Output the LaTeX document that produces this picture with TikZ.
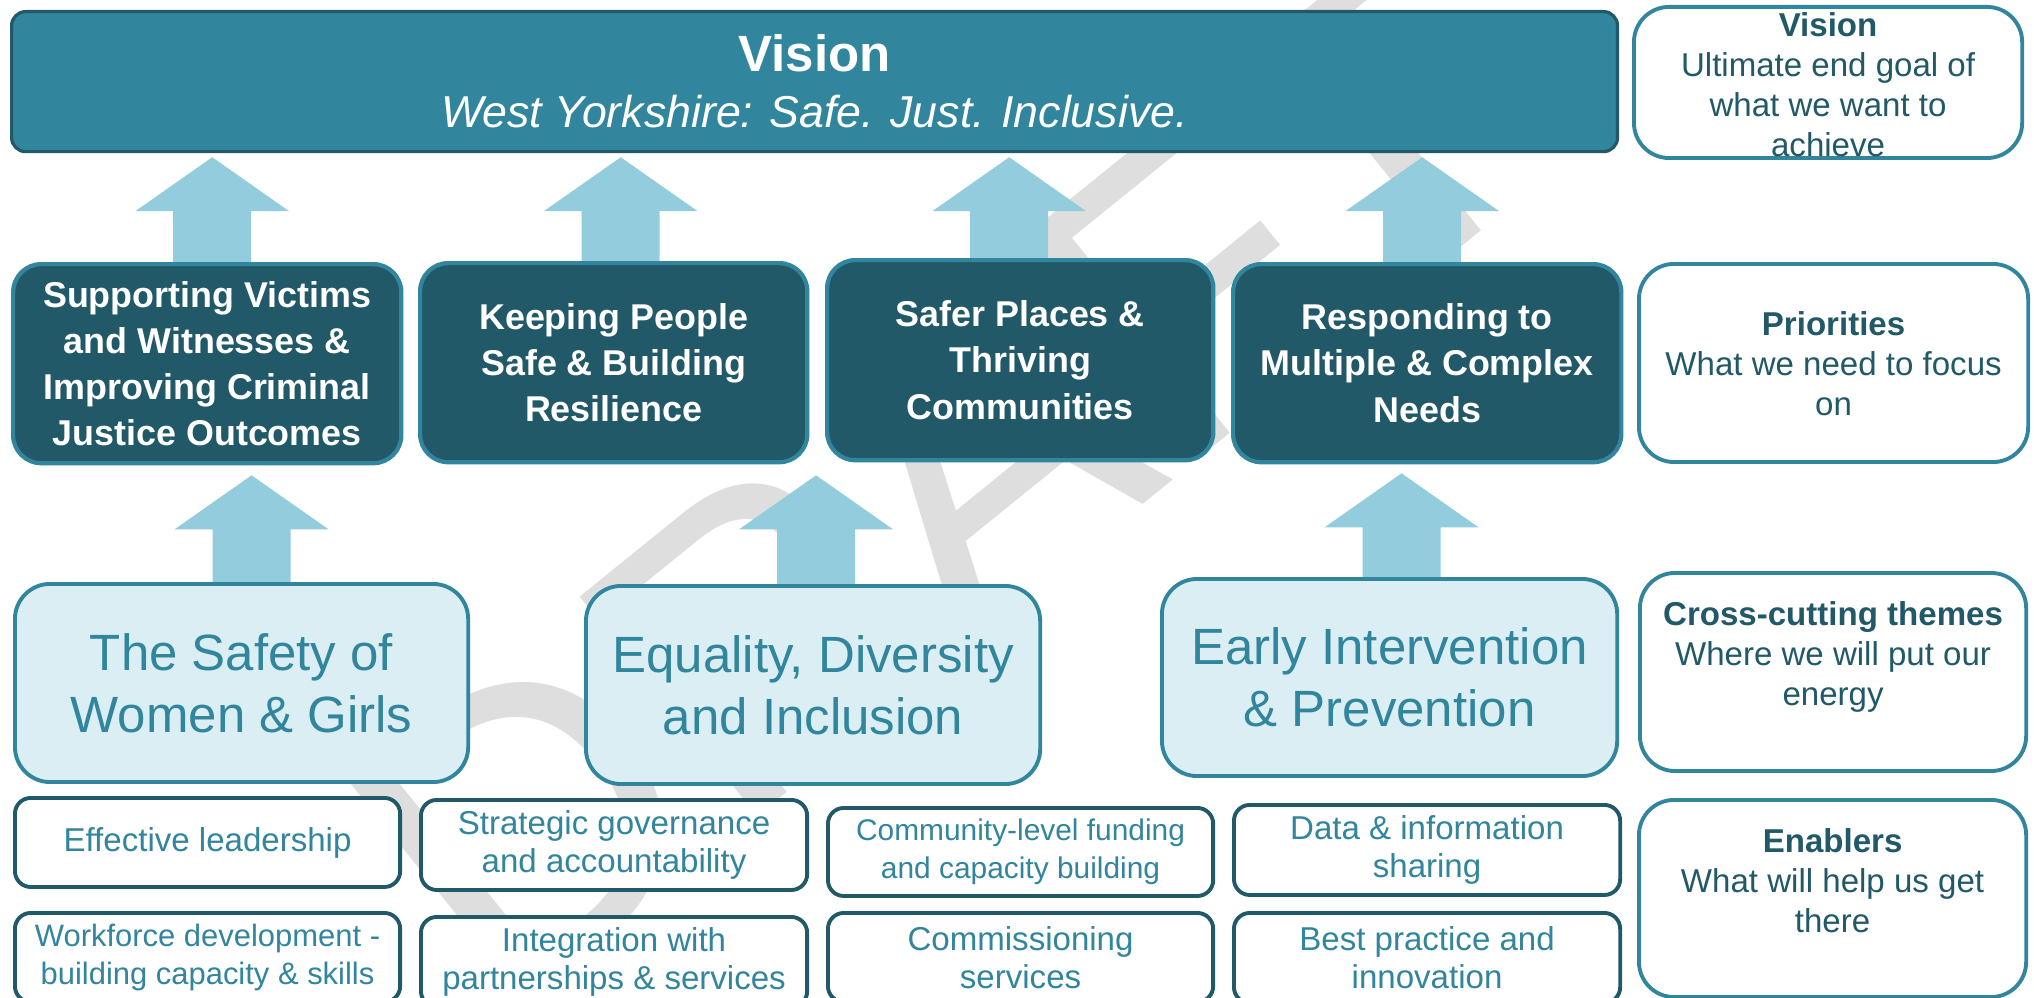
\documentclass[tikz,border=0pt]{standalone}
\usepackage{fontspec}
\setmainfont{Liberation Sans}
\usetikzlibrary{calc}

\definecolor{wyteal}{HTML}{31859C}
\definecolor{wydark}{HTML}{215968}
\definecolor{wyarrow}{HTML}{93CDDD}
\definecolor{wylight}{HTML}{DAEEF3}
\definecolor{wydraft}{HTML}{DEDEDE}

\pgfdeclarelayer{draftlayer}
\pgfdeclarelayer{arrowlayer}
\pgfsetlayers{draftlayer,arrowlayer,main}

\tikzset{
    vision-box/.style = {draw=wydark, fill=wyteal, line width=0.9pt, rounded corners=4pt, anchor=north west, inner sep=0pt, text=white, align=center, font=\fontsize{12.7}{15.9}\selectfont},
    priority-box/.style = {draw=wyteal, fill=wydark, line width=1.2pt, rounded corners=8pt, anchor=north west, inner sep=0pt, text=white, align=center, font=\fontsize{10.2}{13.1}\selectfont\bfseries},
    theme-box/.style = {draw=wyteal, fill=wylight, line width=1.1pt, rounded corners=10pt, anchor=north west, inner sep=0pt, text=wyteal, align=center, font=\fontsize{14.5}{17.6}\selectfont},
    enabler-box/.style = {draw=wydark, fill=white, line width=1.1pt, rounded corners=4.5pt, anchor=north west, inner sep=0pt, text=wyteal, align=center, font=\fontsize{9.4}{10.8}\selectfont},
    key-box/.style = {draw=wyteal, fill=white, line width=1.1pt, rounded corners=10pt, anchor=north west, inner sep=0pt},
    key-text/.style = {text=wydark, align=center, inner sep=0pt, font=\fontsize{9.4}{11.4}\selectfont},
    up-arrow/.style = {fill=wyarrow},
    draft-mark/.style = {text=wydraft, inner sep=0pt, font=\fontsize{116.6}{117}\selectfont},
}

% block arrow: #1 = foot, #2 = tip
\newcommand{\blockarrow}[2]{%
  \fill[up-arrow] ($(#1)+(-39,0)$) -- ($(#2)+(-39,54)$) -- ($(#2)+(-77,54)$) -- (#2)
    -- ($(#2)+(77,54)$) -- ($(#2)+(39,54)$) -- ($(#1)+(39,0)$) -- cycle;}

\begin{document}
\begin{tikzpicture}[x=0.01cm, y=-0.01cm]
\useasboundingbox (0,0) rectangle (2034,997);

% vision
\node[vision-box, minimum width=16.05cm, minimum height=1.40cm] (vision) at (10,10)
    {{\fontsize{14.5}{15.9}\selectfont\bfseries Vision}\\\itshape West Yorkshire: Safe. Just. Inclusive.};

% priorities
\node[priority-box, minimum width=3.88cm, minimum height=1.99cm] (p1) at (11,262) {Supporting Victims\\and Witnesses \&\\Improving Criminal\\Justice Outcomes};
\node[priority-box, minimum width=3.87cm, minimum height=1.99cm] (p2) at (418,261) {Keeping People\\Safe \& Building\\Resilience};
\node[priority-box, minimum width=3.86cm, minimum height=2.00cm] (p3) at (825,258) {Safer Places \&\\Thriving\\Communities};
\node[priority-box, minimum width=3.88cm, minimum height=1.98cm] (p4) at (1231,262) {Responding to\\Multiple \& Complex\\Needs};

% cross-cutting themes
\node[theme-box, minimum width=4.53cm, minimum height=1.98cm] (t1) at (13,582) {The Safety of\\Women \& Girls};
\node[theme-box, minimum width=4.54cm, minimum height=1.98cm] (t2) at (584,584) {Equality, Diversity\\and Inclusion};
\node[theme-box, minimum width=4.55cm, minimum height=1.97cm] (t3) at (1160,577) {Early Intervention\\\& Prevention};

% enablers
\node[enabler-box, minimum width=3.85cm, minimum height=0.89cm] (e1) at (13,796) {Effective leadership};
\node[enabler-box, minimum width=3.86cm, minimum height=0.90cm] (e2) at (419,798) {Strategic governance\\and accountability};
\node[enabler-box, minimum width=3.85cm, minimum height=0.88cm, font=\fontsize{8.5}{10.8}\selectfont] (e3) at (826,806) {Community-level funding\\and capacity building};
\node[enabler-box, minimum width=3.86cm, minimum height=0.90cm] (e4) at (1232,803) {Data \& information\\sharing};
\node[enabler-box, minimum width=3.85cm, minimum height=0.89cm, font=\fontsize{8.8}{10.8}\selectfont] (e5) at (13,911) {Workforce development -\\building capacity \& skills};
\node[enabler-box, minimum width=3.86cm, minimum height=0.90cm] (e6) at (419,915) {Integration with\\partnerships \& services};
\node[enabler-box, minimum width=3.85cm, minimum height=0.89cm] (e7) at (826,911) {Commissioning\\services};
\node[enabler-box, minimum width=3.86cm, minimum height=0.90cm] (e8) at (1232,911) {Best practice and\\innovation};

% key column
\node[key-box, minimum width=3.88cm, minimum height=1.51cm] (kvision) at (1632,5) {};
\node[key-box, minimum width=3.89cm, minimum height=1.98cm] (kprio) at (1637,262) {};
\node[key-box, minimum width=3.86cm, minimum height=1.98cm] (ktheme) at (1638,571) {};
\node[key-box, minimum width=3.87cm, minimum height=1.97cm] (kenab) at (1637,798) {};
\node[key-text] at ($(kvision.center)+(0,2)$) {\textbf{Vision}\\Ultimate end goal of\\what we want to\\achieve};
\node[key-text] at ($(kprio.center)+(0,1)$) {\textbf{Priorities}\\What we need to focus\\on};
\node[key-text] at ($(ktheme.center)+(0,-15)$) {\textbf{Cross-cutting themes}\\Where we will put our\\energy};
\node[key-text] at ($(kenab.center)+(0,-18)$) {\textbf{Enablers}\\What will help us get\\there};

% arrows
\begin{pgfonlayer}{arrowlayer}
\coordinate (a1) at ($(p1.north)+(5,0)$);
\coordinate (a2) at ($(p2.north)+(7,0)$);
\coordinate (a3) at ($(p3.north)+(-11,0)$);
\coordinate (a4) at ($(p4.north)+(-5,0)$);
\coordinate (a5) at ($(t1.north)+(10,0)$);
\coordinate (a6) at ($(t2.north)+(3,0)$);
\coordinate (a7) at ($(t3.north)+(12,0)$);
\blockarrow{a1}{$(a1 |- vision.south)+(0,4)$}
\blockarrow{a2}{$(a2 |- vision.south)+(0,4)$}
\blockarrow{a3}{$(a3 |- vision.south)+(0,4)$}
\blockarrow{a4}{$(a4 |- vision.south)+(0,4)$}
\blockarrow{a5}{$(a5 |- p1.south)+(0,10)$}
\blockarrow{a6}{$(a6 |- p2.south)+(0,11)$}
\blockarrow{a7}{$(a7 |- p4.south)+(0,9)$}
\end{pgfonlayer}

% watermark
\begin{pgfonlayer}{draftlayer}
\fill[white] (0,0) rectangle (2034,997);
\node[draft-mark, rotate=39] (draft) at (944,484) {DRAFT};
\end{pgfonlayer}
\end{tikzpicture}
\end{document}
